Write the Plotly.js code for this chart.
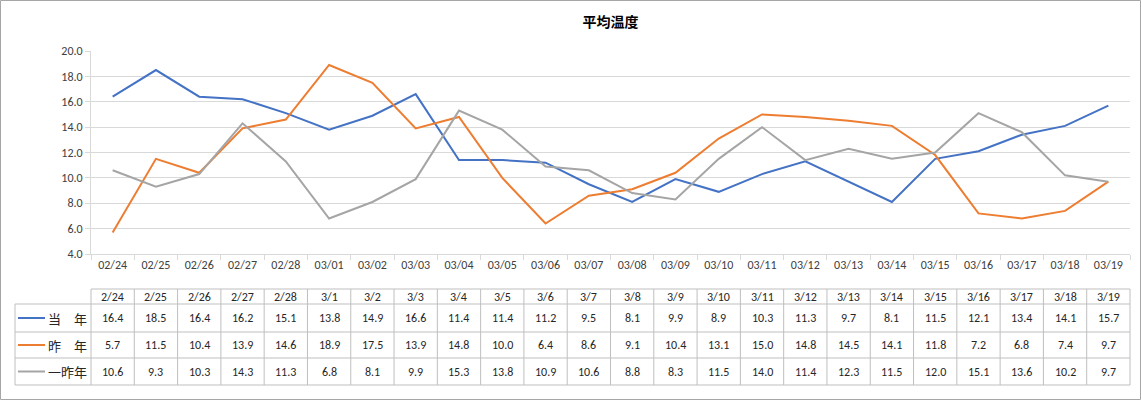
<!DOCTYPE html>
<html><head><meta charset="utf-8">
<script src="https://cdn.plot.ly/plotly-3.0.1.min.js"></script>
<style>body{margin:0;background:#fff;}#chart{width:1141px;height:400px;}</style>
</head><body><div id="chart"></div>
<script>
const categories = ['02/24','02/25','02/26','02/27','02/28','03/01','03/02','03/03','03/04','03/05','03/06','03/07','03/08','03/09','03/10','03/11','03/12','03/13','03/14','03/15','03/16','03/17','03/18','03/19'];
const tableHeaders = ['2/24','2/25','2/26','2/27','2/28','3/1','3/2','3/3','3/4','3/5','3/6','3/7','3/8','3/9','3/10','3/11','3/12','3/13','3/14','3/15','3/16','3/17','3/18','3/19'];
const seriesNames = ['当　年','昨　年','一昨年'];
const seriesColors = ['#4472C4','#ED7D31','#A5A5A5'];
const thisYear   = [16.4,18.5,16.4,16.2,15.1,13.8,14.9,16.6,11.4,11.4,11.2,9.5,8.1,9.9,8.9,10.3,11.3,9.7,8.1,11.5,12.1,13.4,14.1,15.7];
const lastYear   = [5.7,11.5,10.4,13.9,14.6,18.9,17.5,13.9,14.8,10.0,6.4,8.6,9.1,10.4,13.1,15.0,14.8,14.5,14.1,11.8,7.2,6.8,7.4,9.7];
const yearBefore = [10.6,9.3,10.3,14.3,11.3,6.8,8.1,9.9,15.3,13.8,10.9,10.6,8.8,8.3,11.5,14.0,11.4,12.3,11.5,12.0,15.1,13.6,10.2,9.7];
const allSeries = [thisYear, lastYear, yearBefore];

const W = 1141, H = 400;
const mL = 91, mR = 11, mT = 51, mB = 146;
const pw = W - mL - mR, ph = H - mT - mB;
const px2x = p => (p - mL) / pw;
const py2y = p => (H - mB - p) / ph;

const font = "Calibri, Carlito, 'Liberation Sans', 'Noto Sans CJK JP', sans-serif";
const cjk = "'Noto Sans CJK JP', 'Liberation Sans', sans-serif";
const gridC = '#D9D9D9', tblC = '#BFBFBF';

const traces = allSeries.map((s, i) => ({
  type: 'scatter', mode: 'lines', x: categories, y: s, name: seriesNames[i],
  line: {color: seriesColors[i], width: 2}, hoverinfo: 'x+y'
}));

const rowLines = [289, 304, 332, 358, 385];
const rowCenters = [296.5, 318, 345, 371.5];
const n = categories.length;
const shapes = [];
const annotations = [];
const line = (x0,y0,x1,y1,c) => shapes.push({type:'line',xref:'paper',yref:'paper',x0,y0,x1,y1,line:{color:c||tblC,width:1}});

line(0, py2y(rowLines[0]), 1, py2y(rowLines[0]));
for (let k = 1; k < rowLines.length; k++) line(px2x(15), py2y(rowLines[k]), 1, py2y(rowLines[k]));
for (let i = 0; i <= n; i++) line(i / n, py2y(rowLines[0]), i / n, py2y(rowLines[4]));
line(px2x(15), py2y(rowLines[1]), px2x(15), py2y(rowLines[4]));

const cellFont = {family:font,size:12,color:'#262626'};
tableHeaders.forEach((h, i) => annotations.push({xref:'x', yref:'paper', x: categories[i], y: py2y(rowCenters[0]), xanchor:'center', yanchor:'middle', text: h, showarrow:false, font:cellFont}));
allSeries.forEach((s, r) => {
  s.forEach((v, i) => annotations.push({xref:'x', yref:'paper', x: categories[i], y: py2y(rowCenters[r+1]), xanchor:'center', yanchor:'middle', text: v.toFixed(1), showarrow:false, font:cellFont}));
  shapes.push({type:'line',xref:'paper',yref:'paper',x0:px2x(18),x1:px2x(45),y0:py2y(rowCenters[r+1]),y1:py2y(rowCenters[r+1]),line:{color:seriesColors[r],width:2}});
  annotations.push({xref:'paper', yref:'paper', x: px2x(89), xanchor:'right', yanchor:'middle', y: py2y(rowCenters[r+1]), text: seriesNames[r], showarrow:false, font:{family:cjk,size:13,color:'#262626'}});
});

shapes.push({type:'rect',xref:'paper',yref:'paper',x0:px2x(0.5),x1:px2x(1140.5),y0:py2y(399.5),y1:py2y(0.5),line:{color:'#A6A6A6',width:1},fillcolor:'rgba(0,0,0,0)'});

const layout = {
  width: W, height: H,
  margin: {l: mL, r: mR, t: mT, b: mB, pad: 0},
  paper_bgcolor: '#fff', plot_bgcolor: '#fff',
  showlegend: false,
  title: {text: '平均温度', x: 0.5, xref: 'paper', xanchor: 'center', y: 1 - 22/H, yanchor: 'middle', font: {family: cjk, size: 14, color: '#000', weight: 'bold'}},
  xaxis: {type: 'category', range: [-0.5, n - 0.5], tickson: 'boundaries', ticks: 'outside', ticklen: 5, tickcolor: gridC,
    showgrid: false, showline: true, linecolor: gridC, tickfont: {family: font, size: 12, color: '#404040'}, fixedrange: true},
  yaxis: {range: [4, 20], dtick: 2, tick0: 4, tickformat: '.1f', ticks: 'outside', ticklen: 5, tickcolor: gridC,
    gridcolor: gridC, showline: true, linecolor: gridC, zeroline: false, tickfont: {family: font, size: 12, color: '#404040'}, fixedrange: true},
  shapes, annotations
};

Plotly.newPlot('chart', traces, layout, {displayModeBar: false, staticPlot: true});
</script>
</body></html>
